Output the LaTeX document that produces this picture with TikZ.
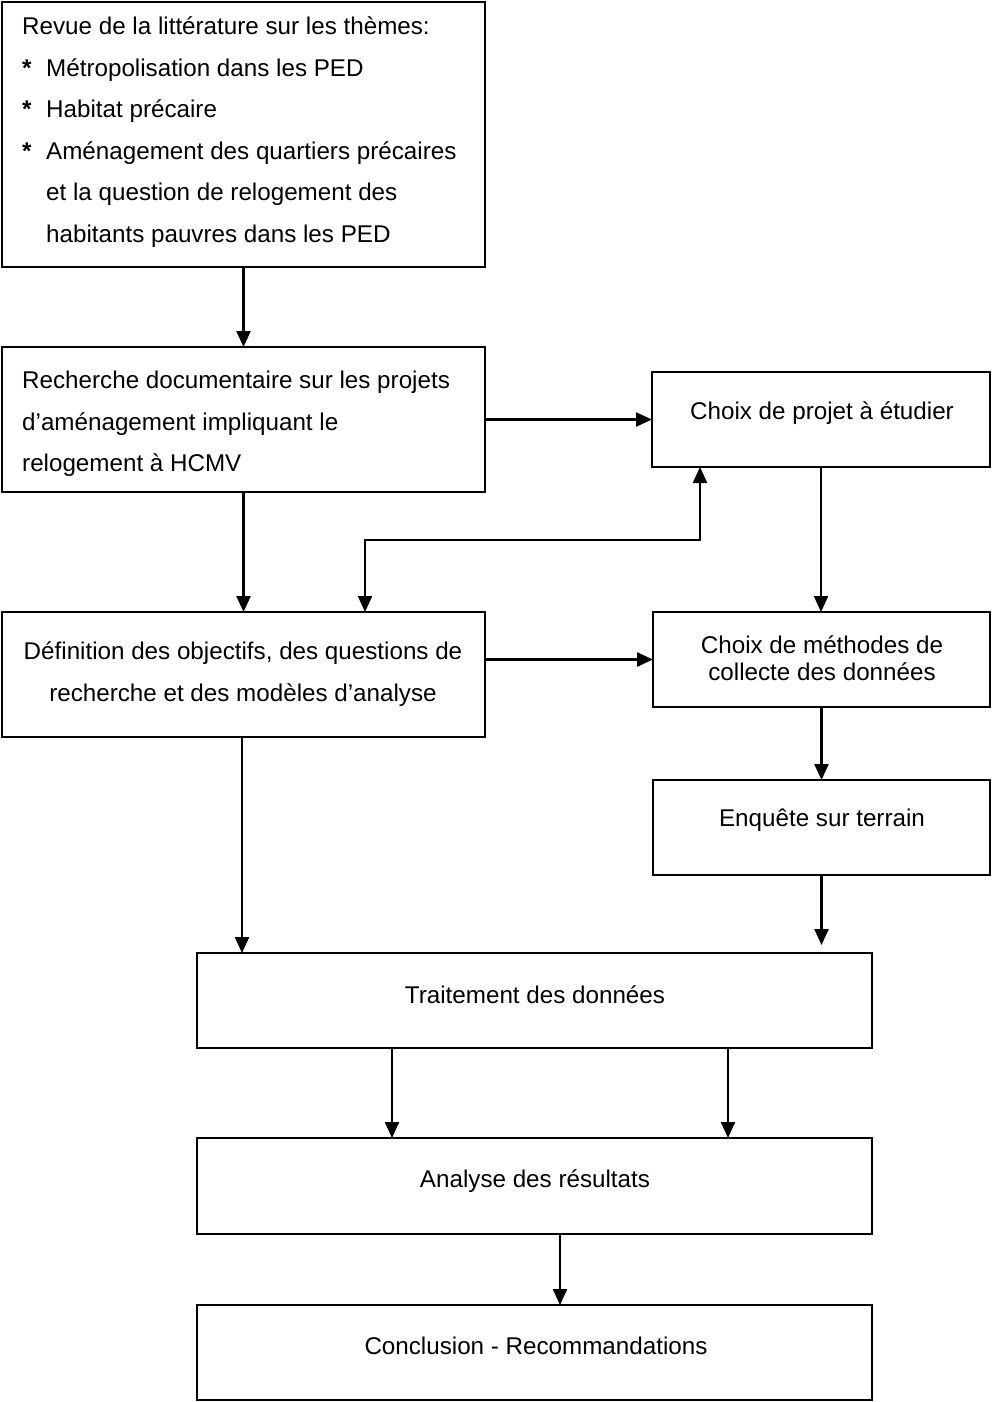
\documentclass[tikz,border=0pt]{standalone}
\usepackage{fontspec}
\setmainfont{Liberation Sans}
\usetikzlibrary{arrows.meta}
\begin{document}
\begin{tikzpicture}[x=1pt,y=-1pt,
  box/.style={draw, line width=2.8pt, rectangle, inner sep=0pt, outer sep=0pt, anchor=center},
  txt/.style={inner sep=0pt, font=\fontsize{24.2}{41.5}\selectfont},
  tip/.tip={Triangle[length=16pt,width=14pt]},
  arr/.style={line width=2.3pt, -tip},
  darr/.style={line width=2.3pt, tip-tip}]
\useasboundingbox (0,0) rectangle (992,1402);

% boxes
\node[box, minimum width=483pt, minimum height=265pt] (b1) at (243.5,134.5) {};
\node[box, minimum width=483pt, minimum height=145pt] (b2) at (243.5,419.5) {};
\node[box, minimum width=338pt, minimum height=95pt] (b3) at (821,419.5) {};
\node[box, minimum width=483pt, minimum height=125pt] (b4) at (243.5,674.5) {};
\node[box, minimum width=337pt, minimum height=95pt] (b5) at (821.5,659.5) {};
\node[box, minimum width=337pt, minimum height=95pt] (b6) at (821.5,827.5) {};
\node[box, minimum width=675pt, minimum height=95pt] (b7) at (534.5,1000.5) {};
\node[box, minimum width=675pt, minimum height=96pt] (b8) at (534.5,1186) {};
\node[box, minimum width=675pt, minimum height=95pt] (b9) at (534.5,1352.5) {};

% texts
\newcommand{\bul}{\makebox[24pt][l]{\bfseries *}}
\node[txt, align=left, anchor=west] (t1) at (22,132) {Revue de la littérature sur les thèmes:\\
  \bul Métropolisation dans les PED\\
  \bul Habitat précaire\\
  \bul Aménagement des quartiers précaires\\
  \hspace*{24pt}et la question de relogement des\\
  \hspace*{24pt}habitants pauvres dans les PED};
\node[txt, align=left, anchor=west] (t2) at (22,424) {Recherche documentaire sur les projets\\
  d’aménagement impliquant le\\
  relogement à HCMV};
\node[txt] (t3) at (822,413) {Choix de projet à étudier};
\node[txt, align=center] (t4) at (243,674) {Définition des objectifs, des questions de\\
  recherche et des modèles d’analyse};
\node[txt, align=center, font=\fontsize{24.2}{27}\selectfont] (t5) at (822,658) {Choix de méthodes de\\
  collecte des données};
\node[txt] (t6) at (822,820) {Enquête sur terrain};
\node[txt] (t7) at (535,995) {Traitement des données};
\node[txt] (t8) at (535,1181) {Analyse des résultats};
\node[txt] (t9) at (536,1346) {Conclusion - Recommandations};

% junction points of the two-way connector
\coordinate (j1) at (365,540);
\coordinate (j2) at (700,540);

% connectors
\draw[arr] (b1.south) -- (b2.north);
\draw[arr] (b2.east) -- (b2.east -| b3.west);
\draw[arr] (b2.south) -- (b4.north);
\draw[darr] (j1 |- b4.north) -- (j1) -- (j2) -- (j2 |- b3.south);
\draw[arr] (b3.south) -- (b3.south |- b5.north);
\draw[arr] (b5.west -| b4.east) -- (b5.west);
\draw[arr] (b5.south) -- (b6.north);
\draw[arr] (b4.south -| 242,0) -- (242,0 |- b7.north);
\draw[arr, shorten >=8pt] (b6.south) -- (b6.south |- b7.north);
\draw[arr] (392,0 |- b7.south) -- (392,0 |- b8.north);
\draw[arr] (728,0 |- b7.south) -- (728,0 |- b8.north);
\draw[arr] (560,0 |- b8.south) -- (560,0 |- b9.north);
\end{tikzpicture}
\end{document}
